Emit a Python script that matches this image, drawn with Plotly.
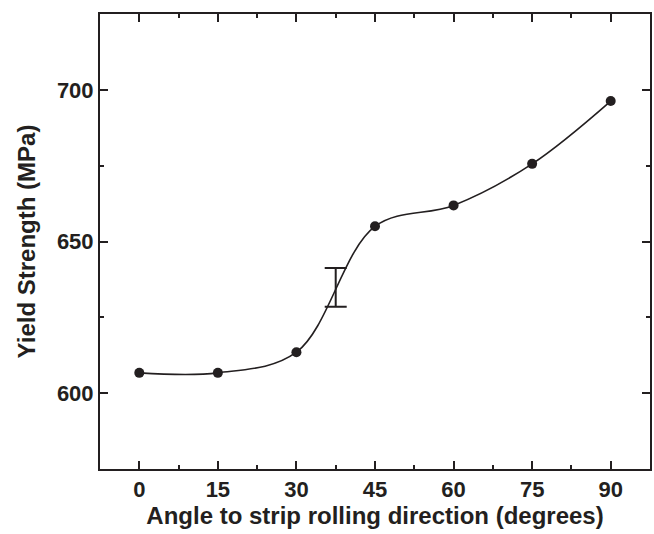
import plotly.graph_objects as go

angles = [0, 15, 30, 45, 60, 75, 90]
yield_strength = [606.7, 606.7, 613.5, 655.0, 661.9, 675.6, 696.3]

err_x = [37.5]
err_y = [634.9]
err_half = [6.4]

x_ticks = [0, 15, 30, 45, 60, 75, 90]
y_ticks = [600, 650, 700]

ink = "#231f20"
font_family = "Liberation Sans, Arial, sans-serif"

fig = go.Figure()
fig.add_trace(go.Scatter(
    x=angles, y=yield_strength, mode="lines+markers",
    line=dict(color=ink, width=1.6, shape="spline", smoothing=1.0),
    marker=dict(color=ink, size=10),
    showlegend=False,
))
fig.add_trace(go.Scatter(
    x=err_x, y=err_y, mode="markers",
    marker=dict(color="rgba(0,0,0,0)", size=1),
    error_y=dict(type="data", array=err_half, symmetric=True, color=ink, thickness=2, width=11),
    showlegend=False,
))

tick_font = dict(family=font_family, size=22, color=ink, weight="bold")
title_font = dict(family=font_family, size=24, color=ink, weight="bold")

axis_common = dict(
    showline=True, linecolor=ink, linewidth=2, mirror="ticks",
    ticks="inside", ticklen=8, tickwidth=2, tickcolor=ink,
    showgrid=False, zeroline=False,
    tickfont=tick_font,
)

fig.update_layout(
    width=654, height=534,
    margin=dict(l=100, r=2, t=14, b=65),
    paper_bgcolor="white", plot_bgcolor="white",
    font=dict(family=font_family, color=ink),
    xaxis=dict(
        **axis_common,
        range=[-7.5, 97.5], tickvals=x_ticks,
        ticktext=[str(v) for v in x_ticks],
        minor=dict(ticks="inside", ticklen=4, tickwidth=1.5, tickcolor=ink, dtick=7.5, tick0=0),
        title=dict(text="Angle to strip rolling direction (degrees)",
                   font=title_font, standoff=6),
    ),
    yaxis=dict(
        **axis_common,
        range=[575, 725], tickvals=y_ticks,
        ticktext=[str(v) for v in y_ticks],
        minor=dict(ticks="inside", ticklen=4, tickwidth=1.5, tickcolor=ink, dtick=25, tick0=0),
        title=dict(text="Yield Strength (MPa)",
                   font=title_font, standoff=14),
    ),
)

fig.write_html(
    "out.html",
    config={"displayModeBar": False},
    post_script="document.body.style.margin='0';document.body.style.overflow='hidden';",
)
